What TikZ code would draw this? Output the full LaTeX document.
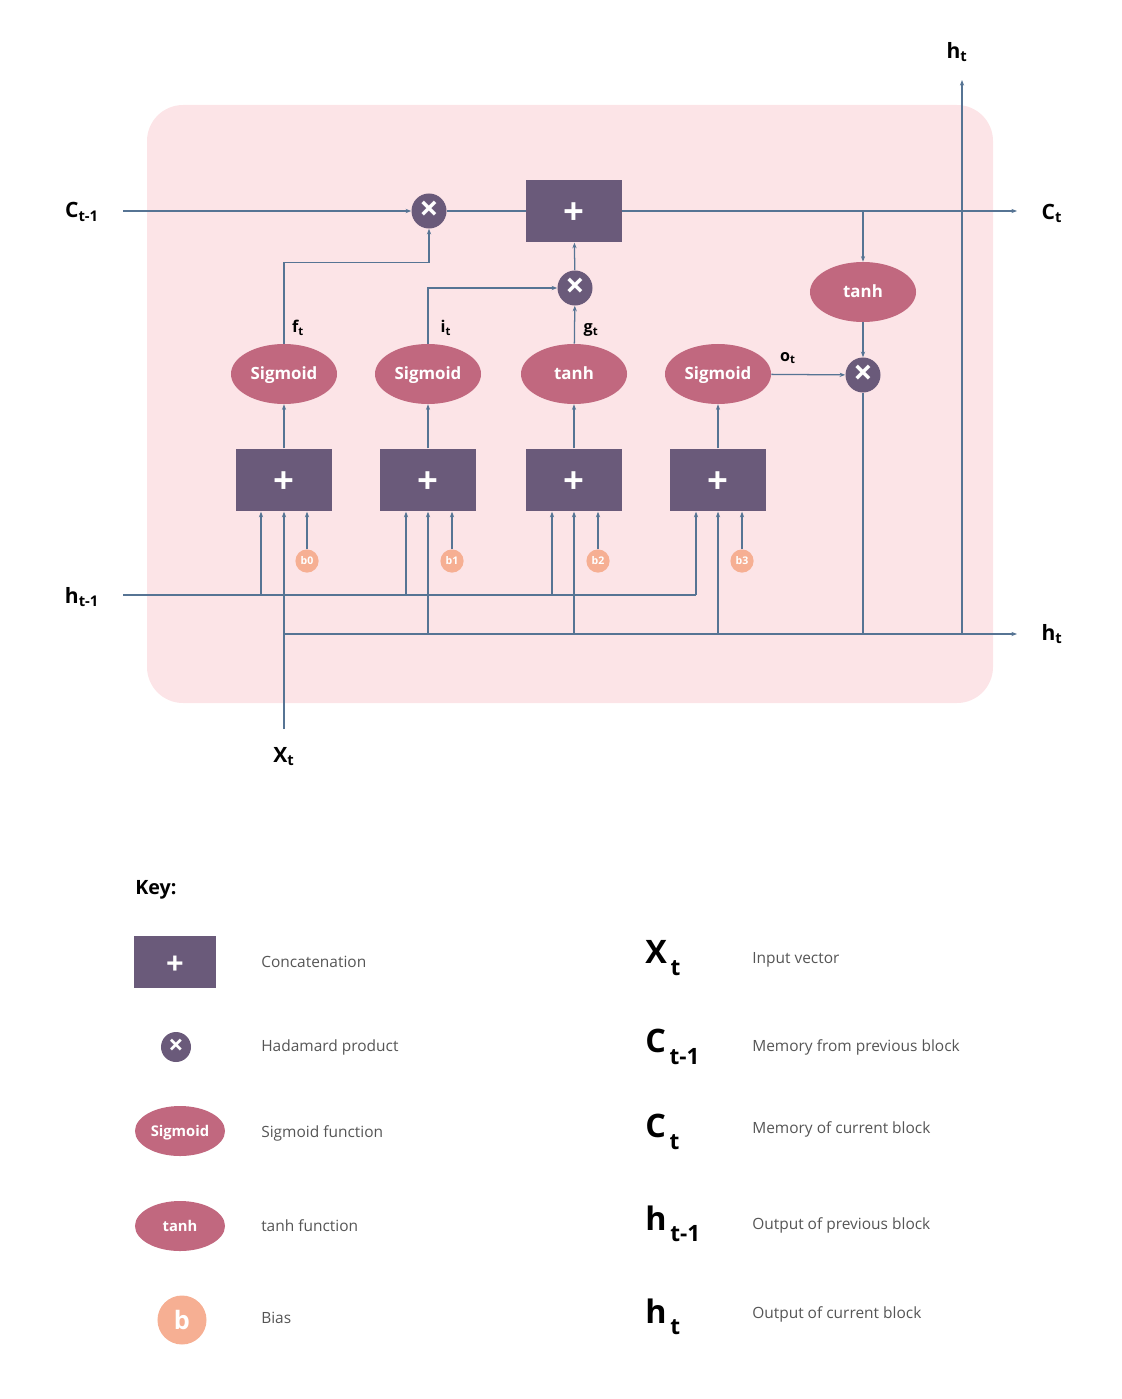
\documentclass[tikz,border=0pt]{standalone}
\usepackage{fontspec}
\setmainfont{Open Sans}
\usetikzlibrary{shapes.geometric,arrows.meta}
\definecolor{cellbg}{RGB}{252,228,231}
\definecolor{concol}{RGB}{106,90,122}
\definecolor{sigcol}{RGB}{193,104,127}
\definecolor{biascol}{RGB}{246,175,147}
\definecolor{wirecol}{RGB}{86,116,148}
\definecolor{keytext}{RGB}{85,85,85}
\newcommand{\keysym}[2]{{\fontsize{23}{23}\bfseries #1}\raisebox{-8pt}{\fontsize{16}{16}\bfseries\,#2}}
\newcommand{\plussign}{\raisebox{-2.2pt}[\height][\depth]{+}}
\begin{document}
\begin{tikzpicture}[x=0.025cm,y=-0.025cm,
    wire/.style={draw=wirecol,line width=0.9pt},
    arr/.style={wire,-{Stealth[length=4pt,width=3pt]}},
    conc/.style={rectangle,fill=concol,minimum width=2.4cm,minimum height=1.57cm,inner sep=0pt,text=white,font=\fontsize{26}{26}\bfseries},
    had/.style={circle,fill=concol,minimum size=0.875cm,inner sep=0pt,text=white,font=\fontsize{24}{24}\bfseries},
    sig/.style={ellipse,fill=sigcol,minimum width=2.65cm,minimum height=1.5cm,inner sep=0pt,text height=9pt,text depth=1.5pt,text=white,font=\fontsize{12}{12}\bfseries},
    bias/.style={circle,fill=biascol,minimum size=0.58cm,inner sep=0pt,text=white,font=\fontsize{7.5}{8}\bfseries},
    lbl/.style={font=\fontsize{15}{15}\bfseries},
    gate/.style={font=\fontsize{11.5}{12}\bfseries},
    key/.style={anchor=west,text=keytext,font=\fontsize{11}{13}\selectfont}]
    \useasboundingbox (0,0) rectangle (1122,1399);
    \fill[cellbg,rounded corners=0.9cm] (147,105) rectangle (993,703);
    % cell state
    \node[had] (fx) at (429,211) {×};
    \node[conc] (cadd) at (574,211) {\plussign};
    \node[had] (ix) at (575,288) {×};
    \node[sig] (ctanh) at (863,292) {tanh};
    \node[had] (ox) at (863,375) {×};
    % gates
    \node[sig] (s1) at (284,374) {Sigmoid};
    \node[sig] (s2) at (428,374) {Sigmoid};
    \node[sig] (s3) at (574,374) {tanh};
    \node[sig] (s4) at (718,374) {Sigmoid};
    \node[conc] (c1) at (284,480) {\plussign};
    \node[conc] (c2) at (428,480) {\plussign};
    \node[conc] (c3) at (574,480) {\plussign};
    \node[conc] (c4) at (718,480) {\plussign};
    \node[bias] (b0) at (307,561) {b0};
    \node[bias] (b1) at (452,561) {b1};
    \node[bias] (b2) at (598,561) {b2};
    \node[bias] (b3) at (742,561) {b3};
    \node[gate] (ft) at (298,328) {f\textsubscript{t}};
    \node[gate] (it) at (446,328) {i\textsubscript{t}};
    \node[gate] (gt) at (591,330) {g\textsubscript{t}};
    \node[gate] (ot) at (788,358) {o\textsubscript{t}};
    % inputs and outputs
    \node[lbl] (lcin) at (82,212) {C\textsubscript{t-1}};
    \node[lbl] (lcout) at (1052,213) {C\textsubscript{t}};
    \node[lbl] (lhin) at (82,597) {h\textsubscript{t-1}};
    \node[lbl] (lhout) at (1052,634) {h\textsubscript{t}};
    \node[lbl] (lhtop) at (957,52) {h\textsubscript{t}};
    \node[lbl] (lxin) at (284,757) {X\textsubscript{t}};
    \coordinate (cin) at (123,211);
    \coordinate (cout) at (1017,211);
    \coordinate (cbr) at (863,211);
    \coordinate (hin) at (123,595);
    \coordinate (h1) at (261,595);
    \coordinate (h2) at (406,595);
    \coordinate (h3) at (552,595);
    \coordinate (h4) at (696,595);
    \coordinate (xin) at (284,729);
    \coordinate (xrow) at (284,634);
    \coordinate (hout) at (1017,634);
    \coordinate (hup) at (962,634);
    \coordinate (htop) at (962,80);
    \draw[arr] (cin) -- (fx);
    \draw[wire] (fx) -- (cadd);
    \draw[arr] (cadd) -- (cout);
    \draw[arr] (cbr) -- (ctanh);
    \draw[arr] (ctanh) -- (ox);
    \draw[wire] (ox) -- (ox |- xrow);
    \draw[arr] (s1.north) -- ++(0,-81) -| (fx);
    \draw[arr] (s2.north) |- (ix);
    \draw[arr] (s3) -- (ix);
    \draw[arr] (ix) -- (cadd);
    \draw[arr] (s4) -- (ox);
    \draw[arr] (c1) -- (s1);
    \draw[arr] (c2) -- (s2);
    \draw[arr] (c3) -- (s3);
    \draw[arr] (c4) -- (s4);
    \draw[wire] (hin) -- (h4);
    \draw[arr] (h1) -- (h1 |- c1.south);
    \draw[arr] (h2) -- (h2 |- c2.south);
    \draw[arr] (h3) -- (h3 |- c3.south);
    \draw[arr] (h4) -- (h4 |- c4.south);
    \draw[arr] (b0) -- (b0 |- c1.south);
    \draw[arr] (b1) -- (b1 |- c2.south);
    \draw[arr] (b2) -- (b2 |- c3.south);
    \draw[arr] (b3) -- (b3 |- c4.south);
    \draw[arr] (xin) -- (c1);
    \draw[arr] (c2 |- xrow) -- (c2);
    \draw[arr] (c3 |- xrow) -- (c3);
    \draw[arr] (c4 |- xrow) -- (c4);
    \draw[arr] (xrow) -- (hout);
    \draw[arr] (hup) -- (htop);
    % key
    \node[lbl,anchor=west,inner sep=0pt,font=\fontsize{14}{14}\bfseries] (key) at (135,890) {Key:};
    \node[conc,minimum width=2.025cm,minimum height=1.3cm,font=\fontsize{22}{22}\bfseries] (kconc) at (175,962) {\plussign};
    \node[had,minimum size=0.75cm,font=\fontsize{19}{19}\bfseries] (khad) at (176,1047) {×};
    \node[sig,minimum width=2.25cm,minimum height=1.25cm,font=\fontsize{10.5}{11}\bfseries] (ksig) at (180,1131) {Sigmoid};
    \node[sig,minimum width=2.25cm,minimum height=1.25cm,font=\fontsize{10.5}{11}\bfseries] (ktanh) at (180,1226) {tanh};
    \node[bias,minimum size=1.225cm,font=\fontsize{18}{18}\bfseries] (kb) at (182,1320) {b};
    \node[key,inner sep=0pt] (tconc) at (261,962) {Concatenation};
    \node[key,inner sep=0pt] (thad) at (261,1047) {Hadamard product};
    \node[key,inner sep=0pt] (tsig) at (261,1133) {Sigmoid function};
    \node[key,inner sep=0pt] (ttanh) at (261,1226) {tanh function};
    \node[key,inner sep=0pt] (tbias) at (261,1318) {Bias};
    \node[anchor=west,inner sep=0pt] (kx) at (645,958) {\keysym{X}{t}};
    \node[anchor=west,inner sep=0pt] (kcin) at (645,1047) {\keysym{C}{t-1}};
    \node[anchor=west,inner sep=0pt] (kcout) at (645,1132) {\keysym{C}{t}};
    \node[anchor=west,inner sep=0pt] (khin) at (645,1224) {\keysym{h}{t-1}};
    \node[anchor=west,inner sep=0pt] (khout) at (645,1317) {\keysym{h}{t}};
    \node[key,inner sep=0pt] (tx) at (752,960) {Input vector};
    \node[key,inner sep=0pt] (tcin) at (752,1047) {Memory from previous block};
    \node[key,inner sep=0pt] (tcout) at (752,1129) {Memory of current block};
    \node[key,inner sep=0pt] (thin) at (752,1225) {Output of previous block};
    \node[key,inner sep=0pt] (thout) at (752,1314) {Output of current block};
\end{tikzpicture}
\end{document}
